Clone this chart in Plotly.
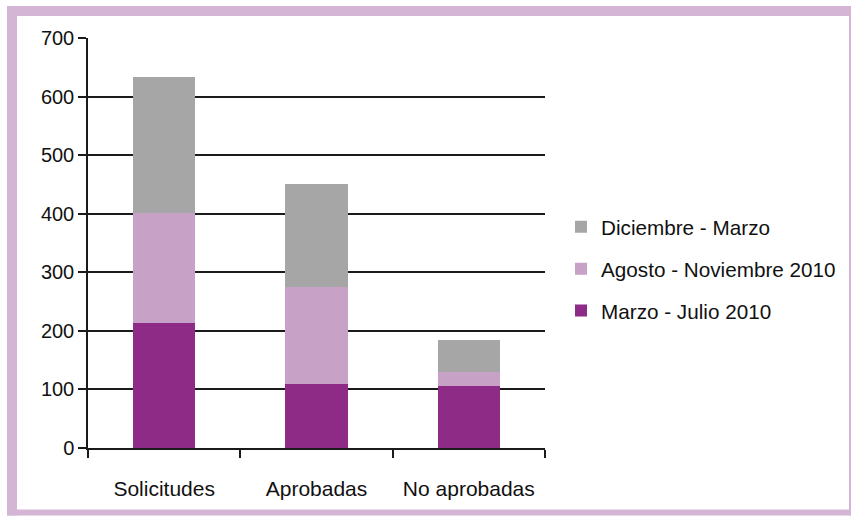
import plotly.graph_objects as go

categories = ["Solicitudes", "Aprobadas", "No aprobadas"]
marzo_julio = [214, 110, 106]
agosto_noviembre = [187, 165, 23]
diciembre_marzo = [233, 176, 55]
series_names = ["Marzo - Julio 2010", "Agosto - Noviembre 2010", "Diciembre - Marzo"]
y_ticks = [0, 100, 200, 300, 400, 500, 600, 700]

W, H = 851, 516
L, R, T, B = 88, 545, 38, 448.5

def px_x(p):
    return (p - L) / (R - L)

def px_y(p):
    return (B - p) / (B - T)

colors = ["#8E2B86", "#C8A1C7", "#A6A6A6"]
family = "Liberation Sans, Arial, sans-serif"
font = dict(family=family, size=20, color="#111111")
legend_font = dict(family=family, size=20.7, color="#111111")
xfont = dict(family=family, size=21, color="#111111")

fig = go.Figure()
for i, (name, vals, col) in enumerate(zip(series_names, [marzo_julio, agosto_noviembre, diciembre_marzo], colors)):
    fig.add_trace(go.Bar(x=categories, y=vals, name=name, marker=dict(color=col, line=dict(width=0)),
                         width=0.41, legendgroup=name, legendrank=3 - i))

frame_col = "#D4B5D5"
strips = [(7, 6, 851, 16), (7, 6, 17, 516), (7, 510, 851, 516), (849, 6, 851, 516)]
shapes = []
for x0, y0, x1, y1 in strips:
    shapes.append(dict(type="rect", xref="paper", yref="paper",
                       x0=px_x(x0), x1=px_x(x1), y0=px_y(y1), y1=px_y(y0),
                       fillcolor=frame_col, line=dict(width=0), layer="above"))

fig.update_layout(
    width=W, height=H,
    margin=dict(l=L, r=W - R, t=T, b=H - B, pad=0, autoexpand=False),
    barmode="stack",
    paper_bgcolor="white", plot_bgcolor="white",
    font=font,
    showlegend=True,
    legend=dict(traceorder="grouped", tracegroupgap=12,
                x=px_x(561), xanchor="left", y=px_y(207), yanchor="top",
                font=legend_font, bgcolor="rgba(0,0,0,0)"),
    shapes=shapes,
    xaxis=dict(range=[-0.5, 2.5], showline=True, linecolor="#1a1a1a", linewidth=1.5,
               ticks="outside", tickson="boundaries", ticklen=8, tickwidth=1.5, tickcolor="#1a1a1a",
               showgrid=False, ticklabelstandoff=21, tickfont=xfont),
    yaxis=dict(range=[0, 700], tickvals=y_ticks, showline=True, linecolor="#1a1a1a", linewidth=1.5,
               ticks="outside", ticklen=8, tickwidth=1.5, tickcolor="#1a1a1a",
               showgrid=True, gridcolor="#1a1a1a", gridwidth=1.5, zeroline=False, tickfont=font),
)

fig.write_html("out.html")
